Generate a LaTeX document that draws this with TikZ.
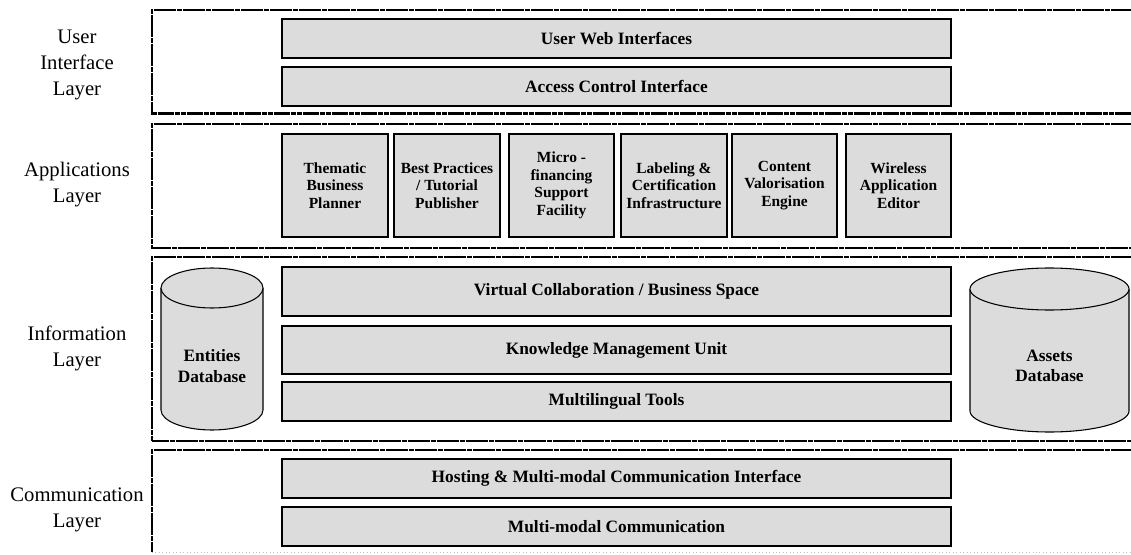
\documentclass[tikz,border=0pt]{standalone}
\usepackage{fontspec}
\setmainfont{Liberation Serif}
\definecolor{boxgray}{HTML}{DCDCDC}
\begin{document}
\begin{tikzpicture}[x=0.75pt,y=0.75pt,
  layer/.style={draw=black, line width=1.7pt, dash pattern=on 4pt off 0.35pt},
  box/.style={draw=black, line width=0.8pt, fill=boxgray, inner sep=0pt, align=center,
    font=\bfseries\fontsize{13}{15.5}\selectfont},
  appbox/.style={box, minimum height=77.25pt, font=\bfseries\fontsize{11.6}{13.1}\selectfont},
  widebox/.style={box, minimum width=501.75pt},
  lbl/.style={align=center, inner sep=0pt, font=\fontsize{15.5}{19.5}\selectfont},
  cyl/.style={draw=black, line width=0.8pt, fill=boxgray},
  cyltext/.style={align=center, inner sep=0pt, font=\bfseries\fontsize{13}{15.5}\selectfont}]
\useasboundingbox (0,0) rectangle (1131,554);
\clip (0,0) rectangle (1131,554);
% layer frames
\draw[layer] (1145,544) -- (152,544) -- (152,440.5) -- (1145,440.5);
\draw[layer] (1145,430) -- (152,430) -- (152,306) -- (1145,306);
\draw[layer] (1145,297) -- (152,297) -- (152,113) -- (1145,113);
\draw[layer] (1145,104) -- (152,104) -- (152,2);
\draw[gray!50, line width=0.6pt, dotted] (152,2) -- (1145,2);
% labels
\node[lbl] (lui) at (77,489) {User\\Interface\\Layer};
\node[lbl] (lapp) at (77,369) {Applications\\Layer};
\node[lbl] (linf) at (77,206) {Information\\Layer};
\node[lbl] (lcom) at (77,44) {Communication\\Layer};
% UI layer
\node[widebox, minimum height=29.25pt] (web) at (616.5,515.5) {User Web Interfaces};
\node[widebox, minimum height=29.25pt] (acc) at (616.5,467.5) {Access Control Interface};
% applications layer
\node[appbox, minimum width=79.5pt] (a1) at (335,368.5) {Thematic\\Business\\Planner};
\node[appbox, minimum width=79.5pt] (a2) at (447,368.5) {Best Practices\\/ Tutorial\\Publisher};
\node[appbox, minimum width=78.75pt] (a3) at (561.5,368.5) {Micro -\\financing\\Support\\Facility};
\node[appbox, minimum width=79.5pt] (a4) at (674,368.5) {Labeling \&\\Certification\\Infrastructure};
\node[appbox, minimum width=78.75pt] (a5) at (784.5,368.5) {Content\\Valorisation\\Engine};
\node[appbox, minimum width=78.75pt] (a6) at (898.5,368.5) {Wireless\\Application\\Editor};
% information layer
\node[widebox, minimum height=36.75pt] (vc) at (616.5,262.5) {Virtual Collaboration / Business Space};
\node[widebox, minimum height=36pt] (km) at (616.5,204) {Knowledge Management Unit};
\node[widebox, minimum height=29.25pt] (ml) at (616.5,152.5) {Multilingual Tools};
% entities cylinder
\draw[cyl] (161,266) -- (161,144) arc[start angle=180, end angle=360, x radius=51, y radius=20] -- (263,266);
\draw[cyl] (212,266) ellipse [x radius=51, y radius=20];
\node[cyltext] (ent) at (212,188) {Entities\\Database};
% assets cylinder
\draw[cyl] (970,265) -- (970,143) arc[start angle=180, end angle=360, x radius=79.5, y radius=21] -- (1129,265);
\draw[cyl] (1049.5,265) ellipse [x radius=79.5, y radius=21];
\node[cyltext] (ast) at (1049.5,188) {Assets\\Database};
% communication layer
\node[widebox, minimum height=29.25pt] (host) at (616.5,75.5) {Hosting \& Multi-modal Communication Interface};
\node[widebox, minimum height=29.25pt] (mmc) at (616.5,27.5) {Multi-modal Communication};
\end{tikzpicture}
\end{document}
